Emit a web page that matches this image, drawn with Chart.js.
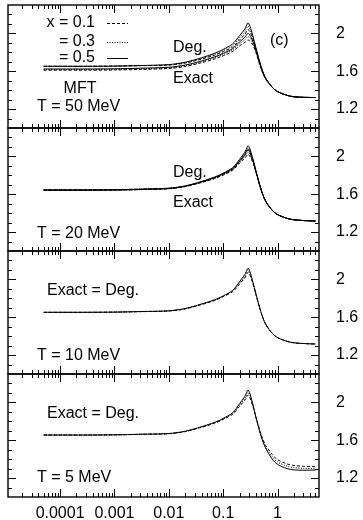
<!DOCTYPE html>
<html>
<head>
<meta charset="utf-8">
<script src="https://cdn.jsdelivr.net/npm/chart.js@4.4.1/dist/chart.umd.min.js"></script>
<style>
  html, body { margin: 0; padding: 0; background: #fff; }
  #wrap { position: relative; width: 363px; height: 520px; overflow: hidden; background: #fff; }
  #wrap canvas { position: absolute; left: 0; }
</style>
</head>
<body>
<div id="wrap">
  <canvas id="p50"></canvas>
  <canvas id="p20"></canvas>
  <canvas id="p10"></canvas>
  <canvas id="p5"></canvas>
</div>
<script>
// density axis (log), shared by all four panels
const xs = [5e-5, 1e-4, 3e-4, 1e-3, 3e-3, 0.01, 0.02, 0.04, 0.07, 0.1, 0.15, 0.2, 0.25, 0.29, 0.35, 0.4, 0.5, 0.6, 0.8, 1, 1.5, 2, 3, 5];
const xTickValues = [1e-4, 1e-3, 1e-2, 0.1, 1];
const xTickLabels = ["0.0001", "0.001", "0.01", "0.1", "1"];
const yTickValues = [1.2, 1.6, 2.0];
const yTickLabels = ["1.2", "1.6", "2"];
const legendLabels = ["x = 0.1", "= 0.3", "= 0.5"];

// T = 50 MeV
const deg50_x05 = [1.652, 1.652, 1.652, 1.654, 1.66, 1.67, 1.695, 1.742, 1.79, 1.83, 1.89, 1.975, 2.045, 2.11, 1.98, 1.85, 1.65, 1.53, 1.43, 1.385, 1.345, 1.33, 1.324, 1.322];
const deg50_x03 = [1.652, 1.652, 1.652, 1.654, 1.66, 1.667, 1.69, 1.735, 1.78, 1.818, 1.872, 1.952, 2.018, 2.075, 1.96, 1.84, 1.645, 1.53, 1.43, 1.385, 1.345, 1.33, 1.324, 1.322];
const deg50_x01 = [1.652, 1.652, 1.652, 1.654, 1.659, 1.665, 1.686, 1.728, 1.77, 1.806, 1.856, 1.93, 1.99, 2.04, 1.945, 1.83, 1.64, 1.53, 1.43, 1.385, 1.345, 1.33, 1.324, 1.322];
const exact50_x05 = [1.624, 1.624, 1.624, 1.626, 1.632, 1.642, 1.665, 1.708, 1.752, 1.788, 1.84, 1.91, 1.958, 2.0, 1.92, 1.82, 1.635, 1.525, 1.43, 1.385, 1.345, 1.33, 1.324, 1.322];
const exact50_x03 = [1.618, 1.618, 1.618, 1.62, 1.626, 1.636, 1.658, 1.70, 1.742, 1.776, 1.826, 1.89, 1.932, 1.965, 1.90, 1.81, 1.63, 1.525, 1.43, 1.385, 1.345, 1.33, 1.324, 1.322];
const exact50_x01 = [1.611, 1.611, 1.611, 1.613, 1.619, 1.629, 1.65, 1.69, 1.73, 1.763, 1.81, 1.868, 1.905, 1.93, 1.88, 1.80, 1.625, 1.52, 1.43, 1.385, 1.345, 1.33, 1.324, 1.322];

// T = 20 MeV
const deg20_x05 = [1.646, 1.646, 1.646, 1.648, 1.654, 1.664, 1.688, 1.735, 1.782, 1.822, 1.882, 1.968, 2.043, 2.113, 1.98, 1.85, 1.65, 1.53, 1.43, 1.385, 1.345, 1.33, 1.322, 1.317];
const deg20_x03 = [1.646, 1.646, 1.646, 1.648, 1.654, 1.663, 1.686, 1.732, 1.778, 1.816, 1.874, 1.956, 2.028, 2.09, 1.97, 1.845, 1.648, 1.53, 1.43, 1.385, 1.345, 1.33, 1.322, 1.317];
const deg20_x01 = [1.646, 1.646, 1.646, 1.648, 1.653, 1.662, 1.684, 1.729, 1.773, 1.81, 1.865, 1.944, 2.012, 2.065, 1.96, 1.84, 1.646, 1.53, 1.43, 1.385, 1.345, 1.33, 1.322, 1.317];
const exact20_x05 = [1.642, 1.642, 1.642, 1.644, 1.65, 1.66, 1.684, 1.73, 1.776, 1.814, 1.87, 1.95, 2.02, 2.075, 1.965, 1.845, 1.647, 1.53, 1.43, 1.385, 1.345, 1.33, 1.322, 1.317];
const exact20_x03 = [1.642, 1.642, 1.642, 1.644, 1.649, 1.659, 1.682, 1.727, 1.771, 1.808, 1.862, 1.938, 2.0, 2.045, 1.95, 1.84, 1.645, 1.53, 1.43, 1.385, 1.345, 1.33, 1.322, 1.317];
const exact20_x01 = [1.642, 1.642, 1.642, 1.644, 1.649, 1.658, 1.68, 1.724, 1.766, 1.802, 1.854, 1.926, 1.982, 2.02, 1.94, 1.835, 1.643, 1.53, 1.43, 1.385, 1.345, 1.33, 1.322, 1.317];

// T = 10 MeV (exact = degenerate)
const t10_x05 = [1.652, 1.652, 1.652, 1.654, 1.66, 1.668, 1.692, 1.74, 1.785, 1.825, 1.885, 1.975, 2.05, 2.117, 1.98, 1.85, 1.65, 1.53, 1.43, 1.385, 1.345, 1.33, 1.322, 1.317];
const t10_x03 = [1.652, 1.652, 1.652, 1.654, 1.66, 1.667, 1.69, 1.737, 1.781, 1.822, 1.878, 1.962, 2.032, 2.095, 1.97, 1.845, 1.648, 1.53, 1.43, 1.385, 1.345, 1.33, 1.322, 1.317];
const t10_x01 = [1.652, 1.652, 1.652, 1.654, 1.659, 1.666, 1.688, 1.734, 1.777, 1.818, 1.87, 1.95, 2.015, 2.075, 1.96, 1.84, 1.646, 1.53, 1.43, 1.385, 1.345, 1.33, 1.322, 1.317];

// T = 5 MeV (exact = degenerate)
const t5_x05 = [1.655, 1.655, 1.655, 1.657, 1.663, 1.671, 1.695, 1.743, 1.789, 1.83, 1.892, 1.985, 2.062, 2.13, 1.985, 1.845, 1.64, 1.52, 1.40, 1.345, 1.30, 1.287, 1.283, 1.285];
const t5_x03 = [1.655, 1.655, 1.655, 1.657, 1.663, 1.67, 1.693, 1.74, 1.785, 1.825, 1.884, 1.972, 2.042, 2.105, 1.975, 1.845, 1.65, 1.535, 1.425, 1.37, 1.325, 1.31, 1.303, 1.302];
const t5_x01 = [1.655, 1.655, 1.655, 1.657, 1.662, 1.669, 1.691, 1.737, 1.78, 1.82, 1.875, 1.958, 2.022, 2.078, 1.965, 1.845, 1.66, 1.55, 1.45, 1.395, 1.35, 1.333, 1.325, 1.32];

const PANEL_H = 123;
const PAD_TOP = 5;
const X_MIN = 1.1e-5, X_MAX = 5.8;
const Y_MIN = 1.0, Y_MAX = 2.3;
const FONT = "'Liberation Sans', Arial, Helvetica, sans-serif";

const STYLE = {
  x01: { borderDash: [3, 2] },
  x03: { borderDash: [1, 1.5] },
  x05: { borderDash: [] },
};

function series(values, kind) {
  return {
    data: xs.map((x, i) => ({ x, y: values[i] })),
    borderColor: "#000",
    borderWidth: 1,
    borderDash: STYLE[kind].borderDash,
    pointRadius: 0,
    tension: 0.3,
    fill: false,
  };
}

// frame, inward tick marks on all four sides, and panel captions
const framePlugin = {
  id: "frame",
  afterDraw(chart, args, opts) {
    const { ctx, chartArea: a } = chart;
    const xs_ = chart.scales.x, ys_ = chart.scales.y;
    ctx.save();
    ctx.strokeStyle = "#000";
    ctx.lineWidth = 1;
    ctx.setLineDash([]);
    ctx.beginPath();
    for (let e = -5; e <= 0; e++) {
      for (let k = 1; k <= 9; k++) {
        const v = k * Math.pow(10, e);
        if (v <= X_MIN || v >= X_MAX) continue;
        const px = Math.round(xs_.getPixelForValue(v)) + 0.5;
        const len = k === 1 ? 8 : 4;
        ctx.moveTo(px, a.top); ctx.lineTo(px, a.top + len);
        ctx.moveTo(px, a.bottom); ctx.lineTo(px, a.bottom - len);
      }
    }
    for (let i = 1; i < 13; i++) {
      const v = Y_MIN + i * 0.1;
      const py = Math.round(ys_.getPixelForValue(v)) + 0.5;
      const major = yTickValues.some((t) => Math.abs(t - v) < 1e-6);
      const len = major ? 8 : 4;
      ctx.moveTo(a.left, py); ctx.lineTo(a.left + len, py);
      ctx.moveTo(a.right, py); ctx.lineTo(a.right - len, py);
    }
    ctx.stroke();
    ctx.lineWidth = 1.4;
    ctx.strokeRect(a.left, a.top, a.right - a.left, a.bottom - a.top);

    ctx.fillStyle = "#000";
    ctx.font = "16px " + FONT;
    ctx.textBaseline = "middle";
    for (const t of opts.texts || []) {
      ctx.textAlign = t.align || "left";
      ctx.fillText(t.text, t.x, a.top + t.y);
    }
    if (opts.legend) {
      const rows = [["x01", 18], ["x03", 37], ["x05", 53]];
      rows.forEach(([kind, y], i) => {
        ctx.textAlign = "right";
        ctx.fillText(legendLabels[i], 95, a.top + y);
        ctx.lineWidth = 1;
        ctx.setLineDash(STYLE[kind].borderDash);
        ctx.beginPath();
        ctx.moveTo(107, a.top + y + 0.5);
        ctx.lineTo(128, a.top + y + 0.5);
        ctx.stroke();
      });
    }
    ctx.restore();
  },
};

function makePanel(id, index, datasets, texts, opts = {}) {
  const bottomAxis = !!opts.bottomAxis;
  const canvas = document.getElementById(id);
  const h = bottomAxis ? 151 : PANEL_H + 10;
  canvas.width = 363;
  canvas.height = h;
  canvas.style.top = index * PANEL_H + "px";
  return new Chart(canvas, {
    type: "line",
    data: { datasets },
    plugins: [framePlugin],
    options: {
      responsive: false,
      animation: false,
      devicePixelRatio: 1,
      layout: { padding: { left: 8, right: 0, top: PAD_TOP, bottom: bottomAxis ? 0 : 5 } },
      plugins: {
        legend: { display: false },
        tooltip: { enabled: false },
        frame: { texts, legend: !!opts.legend },
      },
      scales: {
        x: {
          type: "logarithmic",
          min: X_MIN,
          max: X_MAX,
          display: bottomAxis,
          grid: { display: false, drawTicks: false },
          border: { display: false },
          afterFit: bottomAxis ? (s) => { s.height = 23; } : undefined,
          ticks: {
            autoSkip: false,
            maxRotation: 0,
            padding: 7,
            color: "#000",
            font: { family: FONT, size: 16 },
            callback: (v) => {
              const i = xTickValues.findIndex((t) => Math.abs(t - v) / t < 1e-6);
              return i >= 0 ? xTickLabels[i] : "";
            },
          },
        },
        y: {
          type: "linear",
          position: "right",
          min: Y_MIN,
          max: Y_MAX,
          grid: { display: false, drawTicks: true, tickLength: 17 },
          border: { display: false },
          afterFit: (s) => { s.width = 44; },
          ticks: {
            stepSize: 0.1,
            autoSkip: false,
            padding: 0,
            color: "#000",
            font: { family: FONT, size: 16, lineHeight: 0.5 },
            callback: (v) => {
              const i = yTickValues.findIndex((t) => Math.abs(t - v) < 1e-6);
              return i >= 0 ? yTickLabels[i] : "";
            },
          },
        },
      },
    },
  });
}

makePanel("p50", 0, [
  series(deg50_x01, "x01"), series(deg50_x03, "x03"), series(deg50_x05, "x05"),
  series(exact50_x01, "x01"), series(exact50_x03, "x03"), series(exact50_x05, "x05"),
], [
  { text: "Deg.", x: 173, y: 43 },
  { text: "Exact", x: 173, y: 74 },
  { text: "(c)", x: 270, y: 36 },
  { text: "MFT", x: 80, y: 83.5, align: "center" },
  { text: "T = 50 MeV", x: 37, y: 101.5 },
], { legend: true });

makePanel("p20", 1, [
  series(deg20_x01, "x01"), series(deg20_x03, "x03"), series(deg20_x05, "x05"),
  series(exact20_x01, "x01"), series(exact20_x03, "x03"), series(exact20_x05, "x05"),
], [
  { text: "Deg.", x: 173, y: 45 },
  { text: "Exact", x: 173, y: 74.5 },
  { text: "T = 20 MeV", x: 37, y: 106 },
]);

makePanel("p10", 2, [
  series(t10_x01, "x01"), series(t10_x03, "x03"), series(t10_x05, "x05"),
], [
  { text: "Exact = Deg.", x: 47, y: 40 },
  { text: "T = 10 MeV", x: 37, y: 105 },
]);

makePanel("p5", 3, [
  series(t5_x01, "x01"), series(t5_x03, "x03"), series(t5_x05, "x05"),
], [
  { text: "Exact = Deg.", x: 47, y: 40 },
  { text: "T = 5 MeV", x: 37, y: 104 },
], { bottomAxis: true });
</script>
</body>
</html>
